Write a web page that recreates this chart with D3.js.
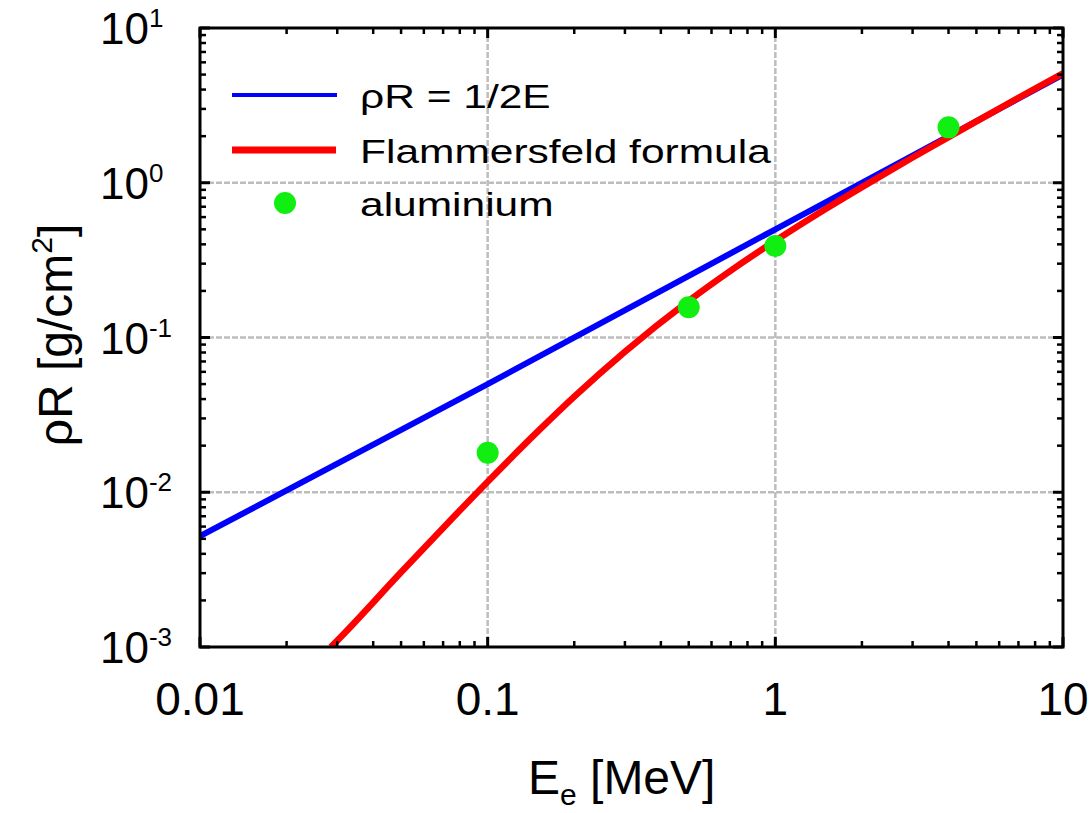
<!DOCTYPE html>
<html>
<head>
<meta charset="utf-8">
<script src="https://cdn.jsdelivr.net/npm/d3@7"></script>
<style>
  body { margin: 0; background: #fff; }
  text { font-family: "Liberation Sans", Arial, sans-serif; fill: #000; }
</style>
</head>
<body>
<svg id="chart" width="1091" height="813"></svg>
<script>
// Range–energy relation for electrons (log–log)
const lineEnergy = [0.01, 0.1, 1, 10];                 // MeV
const lineRange  = [0.0052, 0.05, 0.5, 5.0];           // g/cm^2, rho*R = E/2

const flamEnergy = [0.0285, 0.03, 0.05, 0.07, 0.1, 0.15, 0.2, 0.3, 0.5, 0.7, 1, 1.5, 2, 3, 5, 7, 10];
const flamRange  = [0.001, 0.0011, 0.00304, 0.00588, 0.0117, 0.0249, 0.0415, 0.081, 0.1726, 0.2707,
                    0.422, 0.679, 0.937, 1.456, 2.495, 3.536, 5.097];

const alEnergy = [0.1, 0.5, 1, 4];
const alRange  = [0.018, 0.157, 0.39, 2.28];

const xTickValues = [0.01, 0.1, 1, 10];
const xTickLabels = ["0.01", "0.1", "1", "10"];
const yTickExponents = [1, 0, -1, -2, -3];
const legendLabels = ["\u03c1R = 1/2E", "Flammersfeld formula", "aluminium"];

const svg = d3.select("#chart");
const plot = { left: 200, right: 1063, top: 28, bottom: 647 };

const x = d3.scaleLog().domain([0.01, 10]).range([plot.left, plot.right]);
const y = d3.scaleLog().domain([1e-3, 10]).range([plot.bottom, plot.top]);

// clip for the curves
svg.append("defs").append("clipPath").attr("id", "plotClip")
  .append("rect")
  .attr("x", plot.left).attr("y", plot.top)
  .attr("width", plot.right - plot.left).attr("height", plot.bottom - plot.top);

// dotted grid at the inner decades
const gridColor = "#bdbdbd";
const grid = svg.append("g")
  .attr("stroke", gridColor).attr("stroke-width", 2.5).attr("stroke-dasharray", "6,2");
[0.1, 1].forEach(v => {
  grid.append("line")
    .attr("x1", x(v)).attr("x2", x(v))
    .attr("y1", plot.top).attr("y2", plot.bottom);
});
[1, 0.1, 0.01].forEach(v => {
  grid.append("line")
    .attr("x1", plot.left).attr("x2", plot.right)
    .attr("y1", y(v)).attr("y2", y(v));
});

// curves
const curves = svg.append("g").attr("clip-path", "url(#plotClip)");
const line = d3.line()
  .x(d => x(d[0]))
  .y(d => y(d[1]));

curves.append("path")
  .datum(lineEnergy.map((e, i) => [e, lineRange[i]]))
  .attr("d", line)
  .attr("fill", "none").attr("stroke", "#0000ff").attr("stroke-width", 6);

// Flammersfeld curve: interpolate in log space so it stays smooth on log axes
const logLine = d3.line()
  .x(d => x(Math.pow(10, d[0])))
  .y(d => y(Math.pow(10, d[1])))
  .curve(d3.curveMonotoneX);
curves.append("path")
  .datum(flamEnergy.map((e, i) => [Math.log10(e), Math.log10(flamRange[i])]))
  .attr("d", logLine)
  .attr("fill", "none").attr("stroke", "#ff0000").attr("stroke-width", 6.5);

// aluminium measurements
svg.append("g").selectAll("circle")
  .data(alEnergy.map((e, i) => [e, alRange[i]]))
  .join("circle")
  .attr("cx", d => x(d[0])).attr("cy", d => y(d[1]))
  .attr("r", 11).attr("fill", "#11ee11");

// frame
svg.append("rect")
  .attr("x", plot.left).attr("y", plot.top)
  .attr("width", plot.right - plot.left).attr("height", plot.bottom - plot.top)
  .attr("fill", "none").attr("stroke", "#000").attr("stroke-width", 3);

// inward ticks on all four sides
const ticks = svg.append("g").attr("stroke", "#000");
function minorValues(lo, hi) {
  const out = [];
  for (let d = lo; d < hi * 0.999; d *= 10) {
    for (let k = 2; k <= 9; k++) out.push(k * d);
  }
  return out;
}
const xMajor = xTickValues, xMinor = minorValues(0.01, 10);
const yMajor = yTickExponents.map(p => Math.pow(10, p)), yMinor = minorValues(1e-3, 10);
const majLen = 10, minLen = 6;

xMajor.forEach(v => {
  ticks.append("line").attr("x1", x(v)).attr("x2", x(v)).attr("y1", plot.bottom).attr("y2", plot.bottom - majLen).attr("stroke-width", 3);
  ticks.append("line").attr("x1", x(v)).attr("x2", x(v)).attr("y1", plot.top).attr("y2", plot.top + majLen).attr("stroke-width", 3);
});
xMinor.forEach(v => {
  ticks.append("line").attr("x1", x(v)).attr("x2", x(v)).attr("y1", plot.bottom).attr("y2", plot.bottom - minLen).attr("stroke-width", 2.5);
  ticks.append("line").attr("x1", x(v)).attr("x2", x(v)).attr("y1", plot.top).attr("y2", plot.top + minLen).attr("stroke-width", 2.5);
});
yMajor.forEach(v => {
  ticks.append("line").attr("x1", plot.left).attr("x2", plot.left + majLen).attr("y1", y(v)).attr("y2", y(v)).attr("stroke-width", 3);
  ticks.append("line").attr("x1", plot.right).attr("x2", plot.right - majLen).attr("y1", y(v)).attr("y2", y(v)).attr("stroke-width", 3);
});
yMinor.forEach(v => {
  ticks.append("line").attr("x1", plot.left).attr("x2", plot.left + minLen).attr("y1", y(v)).attr("y2", y(v)).attr("stroke-width", 2.5);
  ticks.append("line").attr("x1", plot.right).attr("x2", plot.right - minLen).attr("y1", y(v)).attr("y2", y(v)).attr("stroke-width", 2.5);
});

// x tick labels
svg.append("g").selectAll("text")
  .data(xTickValues)
  .join("text")
  .attr("x", d => x(d)).attr("y", 715)
  .attr("text-anchor", "middle")
  .attr("font-size", 46)
  .text((d, i) => xTickLabels[i]);

// y tick labels, 10 with superscript exponent
const yLab = svg.append("g").selectAll("text")
  .data(yTickExponents)
  .join("text")
  .attr("x", 100).attr("y", d => y(Math.pow(10, d)) + 16)
  .attr("font-size", 44);
yLab.append("tspan").text("10");
yLab.append("tspan").attr("dy", -17).attr("font-size", 26).text(d => String(d));

// axis titles
const xt = svg.append("text").attr("x", 528).attr("y", 794).attr("font-size", 48);
xt.append("tspan").text("E");
xt.append("tspan").attr("dy", 11).attr("font-size", 30).text("e");
xt.append("tspan").attr("dy", -11).text(" [MeV]");

const yt = svg.append("text")
  .attr("transform", "translate(72,335) rotate(-90)")
  .attr("text-anchor", "middle")
  .attr("font-size", 48);
yt.append("tspan").text("\u03c1R [g/cm");
yt.append("tspan").attr("dy", -20).attr("font-size", 30).text("2");
yt.append("tspan").attr("dy", 20).text("]");

// legend
const legend = svg.append("g");
const legendRows = [95, 150, 203];
legend.append("line").attr("x1", 232).attr("x2", 337).attr("y1", legendRows[0]).attr("y2", legendRows[0])
  .attr("stroke", "#0000ff").attr("stroke-width", 4);
legend.append("line").attr("x1", 232).attr("x2", 336).attr("y1", legendRows[1]).attr("y2", legendRows[1])
  .attr("stroke", "#ff0000").attr("stroke-width", 7);
legend.append("circle").attr("cx", 285).attr("cy", legendRows[2]).attr("r", 11).attr("fill", "#11ee11");
legendLabels.forEach((t, i) => {
  legend.append("text")
    .attr("transform", `translate(360,${legendRows[i] + 13}) scale(1.25,1)`)
    .attr("font-size", 34)
    .text(t);
});
</script>
</body>
</html>
